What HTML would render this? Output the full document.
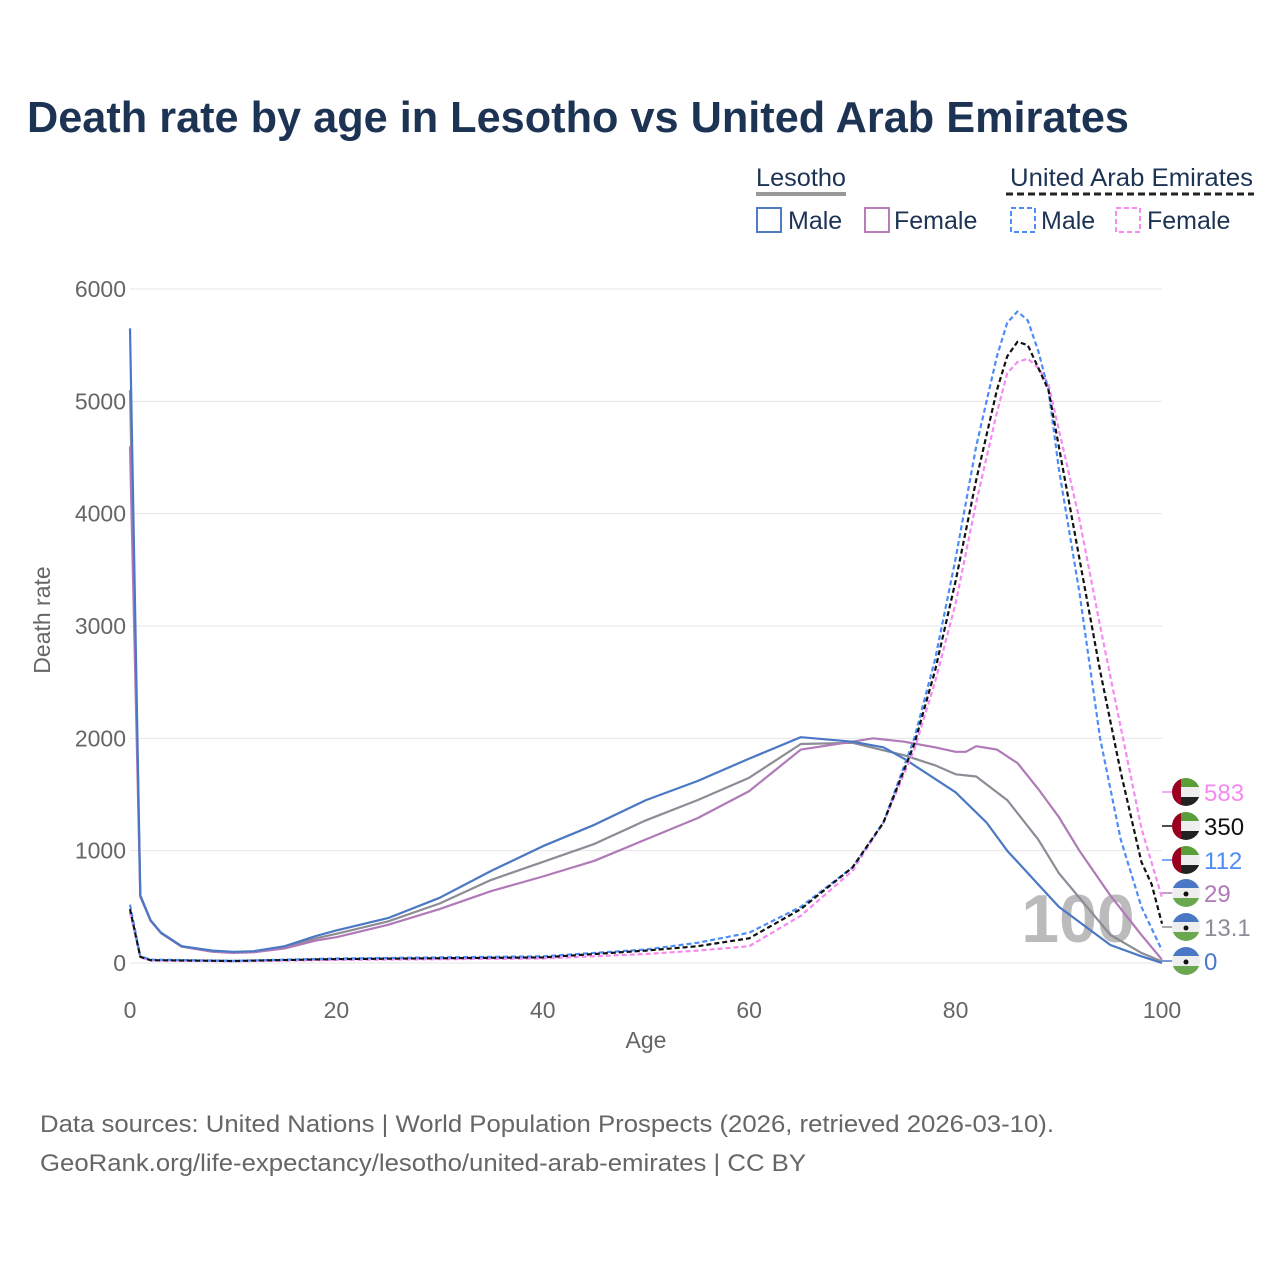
<!DOCTYPE html>
<html><head><meta charset="utf-8"><style>
body{margin:0;background:#fff;font-family:"Liberation Sans",sans-serif}
#wrap{position:relative;width:1280px;height:1280px}
</style></head><body>
<div id="wrap">
<svg id="chart" width="1280" height="1280" xmlns="http://www.w3.org/2000/svg">
<text x="27" y="132" font-size="44" font-weight="bold" fill="#1d3354" textLength="1102" lengthAdjust="spacingAndGlyphs">Death rate by age in Lesotho vs United Arab Emirates</text>
<g font-size="25" fill="#1d3354">
<text x="756" y="186" textLength="90" lengthAdjust="spacingAndGlyphs">Lesotho</text>
<line x1="756" y1="194" x2="846" y2="194" stroke="#999" stroke-width="4"/>
<text x="1010" y="186" textLength="243" lengthAdjust="spacingAndGlyphs">United Arab Emirates</text>
<line x1="1006" y1="194" x2="1254" y2="194" stroke="#222" stroke-width="3" stroke-dasharray="7,4"/>
<rect x="757" y="208" width="24" height="24" fill="none" stroke="#4f7cc4" stroke-width="2"/>
<text x="788" y="229">Male</text>
<rect x="865" y="208" width="24" height="24" fill="none" stroke="#b87cb8" stroke-width="2"/>
<text x="894" y="229">Female</text>
<rect x="1011" y="208" width="24" height="24" fill="none" stroke="#4c8ef5" stroke-width="2" stroke-dasharray="5,3"/>
<text x="1041" y="229">Male</text>
<rect x="1116" y="208" width="24" height="24" fill="none" stroke="#f58af0" stroke-width="2" stroke-dasharray="5,3"/>
<text x="1147" y="229">Female</text>
</g>
<g id="grid"></g>
<text x="1078" y="942" font-size="68" font-weight="bold" fill="#bbb" text-anchor="middle">100</text>
<g id="series"></g>
<defs id="defs"></defs>
<g id="labels"></g>
<text x="50" y="620" font-size="23" fill="#666" text-anchor="middle" transform="rotate(-90 50 620)">Death rate</text>
<text x="646" y="1048" font-size="23" fill="#666" text-anchor="middle">Age</text>
<text x="40" y="1132" font-size="24" fill="#666" textLength="1014" lengthAdjust="spacingAndGlyphs">Data sources: United Nations | World Population Prospects (2026, retrieved 2026-03-10).</text>
<text x="40" y="1171" font-size="24" fill="#666" textLength="766" lengthAdjust="spacingAndGlyphs">GeoRank.org/life-expectancy/lesotho/united-arab-emirates | CC BY</text>
</svg>
</div>
<script>
const yTicks=[0,1000,2000,3000,4000,5000,6000];
const xTicks=[0,20,40,60,80,100];
const lsoMaleAges=[0,1,2,3,5,8,10,12,15,18,20,25,30,35,40,45,50,55,60,65,70,73,75,80,83,85,90,95,98,100];
const lsoMale=[5650,600,380,270,150,110,100,105,150,240,290,400,580,820,1040,1230,1450,1620,1820,2010,1970,1920,1820,1520,1250,1000,500,160,60,0];
const lsoTotAges=[0,1,2,3,5,8,10,12,15,18,20,25,30,35,40,45,50,55,60,65,70,75,78,80,82,85,88,90,95,98,100];
const lsoTotal=[5100,600,380,270,150,105,95,100,140,220,260,370,530,740,900,1060,1270,1450,1650,1950,1960,1850,1760,1680,1660,1450,1100,800,250,90,13];
const lsoFemAges=[0,1,2,3,5,8,10,12,15,18,20,25,30,35,40,45,50,55,60,65,70,72,75,78,80,81,82,84,86,88,90,92,95,98,100];
const lsoFemale=[4600,590,375,265,145,100,90,95,130,200,230,340,480,640,770,910,1100,1290,1530,1900,1970,2000,1970,1920,1880,1880,1930,1900,1780,1550,1300,1000,600,250,29];
const uaeMaleAges=[0,1,2,10,20,40,50,55,60,65,70,73,76,78,80,82,84,85,86,87,88,89,90,92,94,96,98,100];
const uaeMale=[520,60,30,20,40,60,120,180,270,500,850,1250,2000,2700,3600,4600,5400,5700,5800,5720,5450,5100,4400,3300,2000,1100,500,112];
const uaeTotAges=[0,1,2,10,20,40,50,55,60,65,70,73,76,78,80,82,84,85,86,87,88,89,90,92,94,96,98,99,100];
const uaeTotal=[480,55,25,18,35,50,110,150,220,480,850,1250,1950,2600,3400,4300,5100,5400,5530,5500,5300,5100,4600,3600,2600,1700,900,700,350];
const uaeFemAges=[0,1,2,10,20,40,50,55,60,65,70,73,76,78,80,82,84,85,86,87,88,89,90,92,94,96,98,100];
const uaeFemale=[450,50,22,15,28,40,80,110,150,420,820,1250,1900,2500,3200,4100,4900,5250,5350,5380,5300,5150,4750,3950,3000,2100,1200,583];
const endLabels=["583","350","112","29","13.1","0"];
const NS="http://www.w3.org/2000/svg";
const X=a=>130+a*10.32, Y=v=>963-v*0.11233;
const grid=document.getElementById('grid');
function mk(t,at,p){const e=document.createElementNS(NS,t);for(const k in at)e.setAttribute(k,at[k]);p.appendChild(e);return e;}
yTicks.forEach(v=>{
 const l=mk('line',{x1:130,x2:1162,y1:Y(v),y2:Y(v),stroke:'#e6e6e6','stroke-width':1},grid);
 
 
 const t=mk('text',{x:126,y:Y(v)+8,'font-size':23,fill:'#666','text-anchor':'end'},grid);t.textContent=v;
 
 
});
xTicks.forEach(a=>{
 const t=mk('text',{x:X(a),y:1018,'font-size':23,fill:'#666','text-anchor':'middle'},grid);t.textContent=a;
 
 
});
const sg=document.getElementById('series');
function line(ages,vals,color,dash,name){
 const d=ages.map((a,i)=>(i?'L':'M')+X(a).toFixed(1)+','+Y(vals[i]).toFixed(1)).join(' ');
 const p=mk('path',{d:d,fill:'none',stroke:color,'stroke-width':2.2,'stroke-linejoin':'round'},sg);
 if(dash)p.setAttribute('stroke-dasharray',dash);
 
 
}
line(lsoTotAges,lsoTotal,'#8c8c96',null,'lesotho-total-line');
line(lsoFemAges,lsoFemale,'#b07ab8',null,'lesotho-female-line');
line(lsoMaleAges,lsoMale,'#4a78c4',null,'lesotho-male-line');
line(uaeFemAges,uaeFemale,'#f58af0','5,3','uae-female-line');
line(uaeMaleAges,uaeMale,'#4c8ef5','5,3','uae-male-line');
line(uaeTotAges,uaeTotal,'#111','5,3','uae-total-line');
const lg=document.getElementById('labels');
const defs=document.getElementById('defs');
const colors=['#f58af0','#111','#4c8ef5','#b07ab8','#8c8c96','#4a78c4'];
const ly=[792,826,860,893,927,961];
endLabels.forEach((s,i)=>{
 const cy=ly[i], uae=i<3;
 const cp=mk('clipPath',{id:'flag'+i},defs);
 mk('circle',{cx:1186,cy:cy,r:14},cp);
 const g=mk('g',{},lg);
 
 
 mk('line',{x1:1162,x2:1172,y1:cy,y2:cy,stroke:colors[i],'stroke-width':1.5},g);
 const f=mk('g',{'clip-path':'url(#flag'+i+')'},g);
 if(uae){
  mk('rect',{x:1172,y:cy-14,width:28,height:9,fill:'#5a9e3a'},f);
  mk('rect',{x:1172,y:cy-5,width:28,height:10,fill:'#eee'},f);
  mk('rect',{x:1172,y:cy+5,width:28,height:9,fill:'#222'},f);
  mk('rect',{x:1172,y:cy-14,width:9,height:28,fill:'#9c0020'},f);
 }else{
  mk('rect',{x:1172,y:cy-14,width:28,height:9,fill:'#4a78c4'},f);
  mk('rect',{x:1172,y:cy-5,width:28,height:10,fill:'#eee'},f);
  mk('rect',{x:1172,y:cy+5,width:28,height:9,fill:'#6aa84f'},f);
  mk('circle',{cx:1186,cy:cy+1,r:2.5,fill:'#111'},f);
 }
 const t=mk('text',{x:1204,y:cy+9,'font-size':24,fill:colors[i]},g);t.textContent=s;
});
</script>
</body></html>
